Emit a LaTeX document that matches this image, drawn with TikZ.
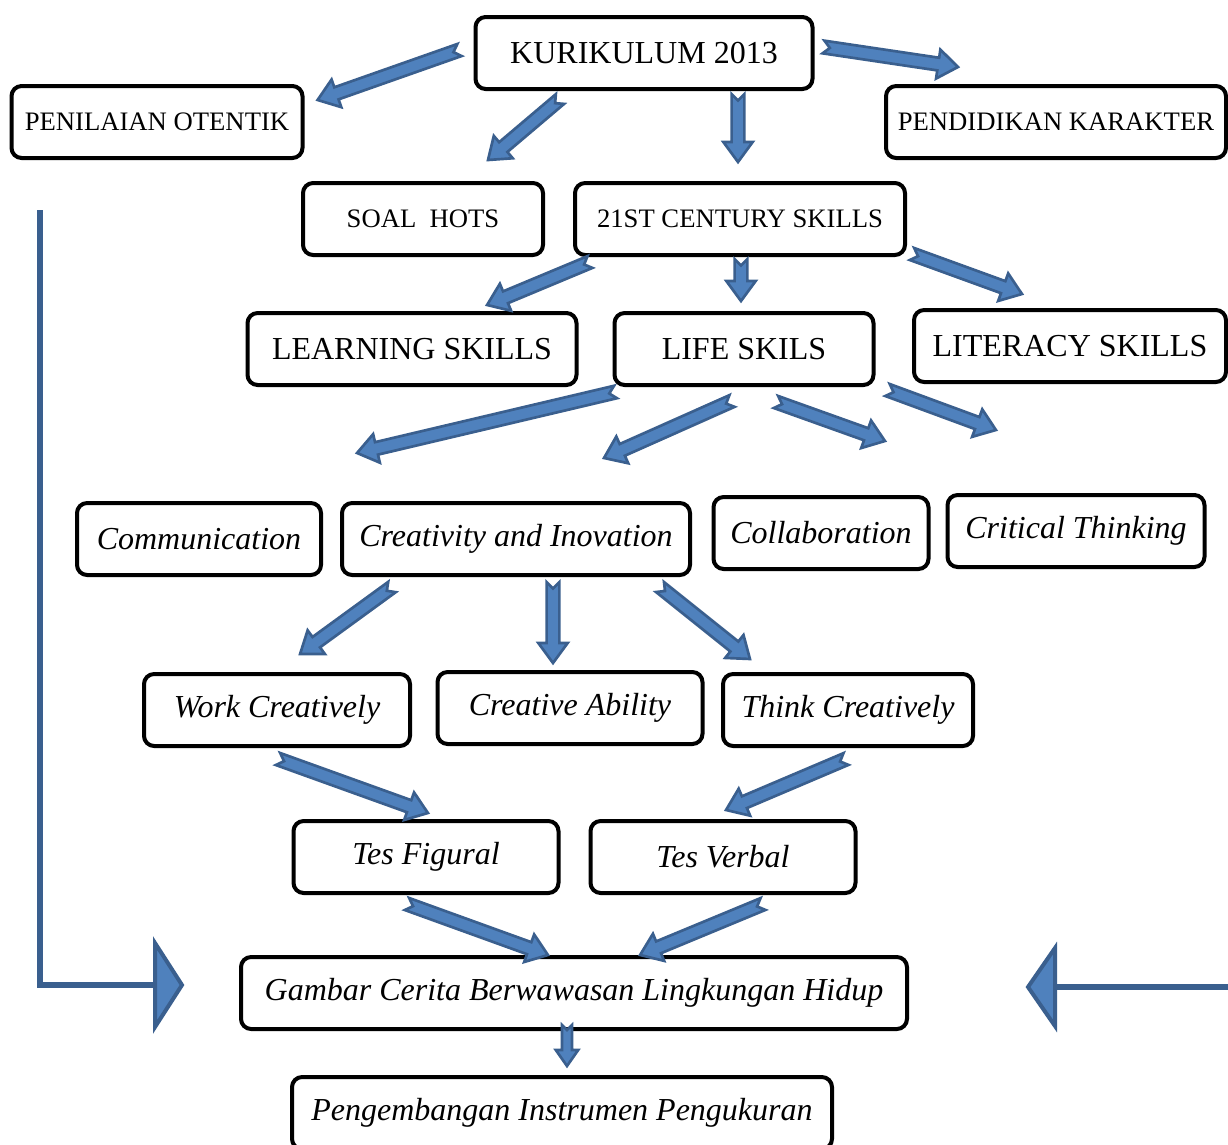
\documentclass[tikz,border=0pt]{standalone}
\usepackage{fontspec}
\setmainfont{Liberation Serif}
\usetikzlibrary{calc}
\definecolor{arrfill}{HTML}{4F81BD}
\definecolor{arrline}{HTML}{3A5F8E}
\tikzset{
  box/.style={draw, rounded corners=3.8pt, line width=1.5pt, minimum height=27pt,
    inner sep=0pt, font=\fontsize{12}{14}\selectfont},
  sbox/.style={box, font=\fontsize{10}{12}\selectfont},
  ibox/.style={box, font=\fontsize{12}{14}\selectfont\itshape},
  bw/.style={minimum width=#1*0.375pt},
  blk/.style={fill=arrfill, draw=arrline, line width=1pt},
  conn/.style={draw=arrline, line width=2pt},
  barw/.store in=\barw, barh/.store in=\barh, barl/.store in=\barl,
  barw=2.4pt, barh=5.5pt, barl=7.5pt,
}
% block arrow from #2 to #3
\newcommand{\barrow}[3][]{%
  \path[blk,#1] let \p1=(#2), \p2=(#3),
    \n1={atan2(\y2-\y1,\x2-\x1)}, \n2={veclen(\x2-\x1,\y2-\y1)} in
    {[shift={(\p1)}, rotate=\n1]
      (0pt,\barw) -- ({\n2*1pt-\barl},\barw) -- ({\n2*1pt-\barl},\barh)
      -- ({\n2*1pt},0pt) -- ({\n2*1pt-\barl},-\barh) -- ({\n2*1pt-\barl},-\barw)
      -- (0pt,-\barw) -- (\barw,0pt) -- cycle};}

\begin{document}
\begin{tikzpicture}[x=0.375pt, y=-0.375pt]
  \useasboundingbox (0,0) rectangle (1228,1144);

  % top row
  \node[box, bw=337]  (kur)  at (644,53)   {KURIKULUM 2013};
  \node[sbox, bw=291] (pen)  at (157,122)  {PENILAIAN OTENTIK};
  \node[sbox, bw=340] (kar)  at (1056,122) {PENDIDIKAN KARAKTER};
  \node[sbox, bw=240] (hots) at (423,219)  {SOAL\ \ HOTS};
  \node[sbox, bw=330] (cen)  at (740,219)  {21ST CENTURY SKILLS};

  % skills
  \node[box, bw=329] (lrn)  at (412,349)  {LEARNING SKILLS};
  \node[box, bw=259] (life) at (744,349)  {LIFE SKILS};
  \node[box, bw=312] (lit)  at (1070,346) {LITERACY SKILLS};

  \node[ibox, bw=244] (com) at (199,539)  {Communication};
  \node[ibox, bw=348] (cre) at (516,539)  {Creativity and Inovation};
  \node[ibox, bw=215] (col) at (821,533)  {Collaboration};
  \node[ibox, bw=257] (crt) at (1076,531) {Critical Thinking};

  \node[ibox, bw=266] (wrk) at (277,710)  {Work Creatively};
  \node[ibox, bw=265] (abl) at (570,708)  {Creative Ability};
  \node[ibox, bw=250] (thk) at (848,710)  {Think Creatively};

  \node[ibox, bw=265] (fig) at (426,857)  {Tes Figural};
  \node[ibox, bw=265] (vrb) at (723,857)  {Tes Verbal};

  \node[ibox, bw=666] (gmb) at (574,993)  {Gambar Cerita Berwawasan Lingkungan Hidup};
  \node[ibox, bw=540] (pgm) at (562,1113) {Pengembangan Instrumen Pengukuran};

  % block arrows
  \barrow{[shift={(-14,-3)}]kur.west}{[shift={(13,16)}]pen.north east}
  \barrow{[shift={(-84,8)}]kur.south}{[shift={(65,-21)}]hots.north}
  \barrow{[shift={(94,3)}]kur.south}{[shift={(-2,-19)}]cen.north}
  \barrow{[shift={(9,-6)}]kur.east}{[shift={(-98,-17)}]kar.north}

  \barrow{[shift={(-150,5)}]cen.south}{[shift={(75,-6)}]lrn.north}
  \barrow{[shift={(1,2)}]cen.south}{[shift={(-3,-10)}]life.north}
  \barrow{[shift={(5,-3)}]cen.south east}{[shift={(-48,-14)}]lit.north}

  \barrow{[shift={(3,5)}]life.south west}{[shift={(158,-48)}]com.north}
  \barrow{[shift={(-12,14)}]life.south}{[shift={(88,-43)}]cre.north}
  \barrow{[shift={(32,15)}]life.south}{[shift={(64,-54)}]col.north}
  \barrow{[shift={(12,3)}]life.south east}{[shift={(-80,-63)}]crt.north}

  \barrow{[shift={(-124,10)}]cre.south}{[shift={(23,-18)}]wrk.north}
  \barrow{[shift={(37,5)}]cre.south}{[shift={(-17,-7)}]abl.north}
  \barrow{[shift={(144,10)}]cre.south}{[shift={(-98,-13)}]thk.north}

  \barrow{[shift={(1,11)}]wrk.south}{[shift={(2,-6)}]fig.north}
  \barrow{[shift={(-2,11)}]thk.south}{[shift={(3,-9)}]vrb.north}
  \barrow{[shift={(-19,9)}]fig.south}{[shift={(-26,0)}]gmb.north}
  \barrow{[shift={(40,9)}]vrb.south}{[shift={(66,0)}]gmb.north}
  \barrow[barw=1.9pt, barh=4.2pt, barl=6pt]{[shift={(-7,-6)}]gmb.south}{[shift={(5,-9)}]pgm.north}

  % side connectors
  \coordinate (lt) at (40,210);
  \coordinate (lh) at (155,985);
  \draw[conn] (lt) |- (lh);
  \draw[blk, line width=1.5pt] (lh) -- ++(0,-42) -- ++(27,42) -- ++(-27,42) -- cycle;

  \coordinate (rt) at (1228,987);
  \coordinate (rh) at (1055,987);
  \draw[conn] (rt) -- (rh);
  \draw[blk, line width=1.5pt] (rh) -- ++(0,-39) -- ++(-27,39) -- ++(27,39) -- cycle;
\end{tikzpicture}
\end{document}
